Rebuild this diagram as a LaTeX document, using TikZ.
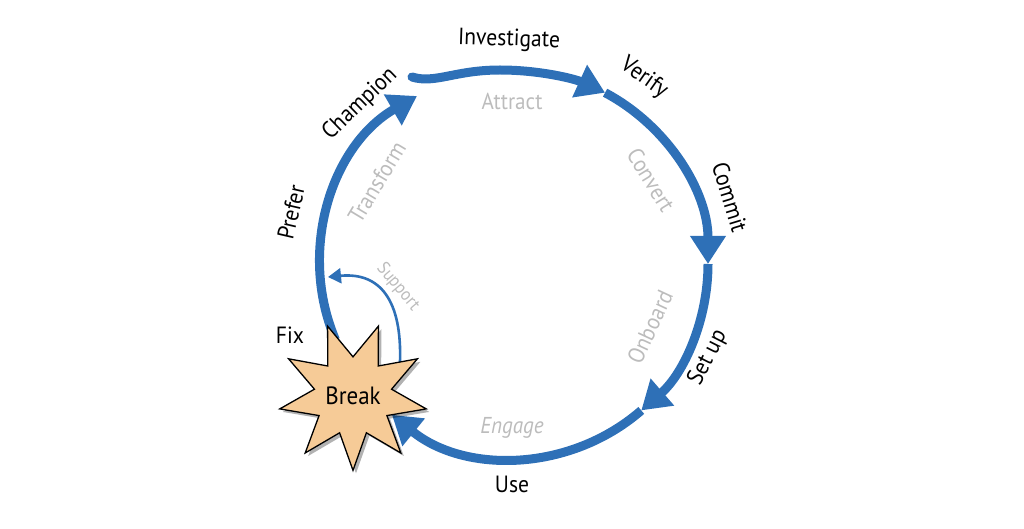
\documentclass[tikz,border=0pt]{standalone}
\usepackage{fontspec}
\setmainfont{PT Sans}[FakeStretch=0.92]
\usetikzlibrary{arrows.meta,shapes.geometric,shadows,calc}
\definecolor{cblue}{RGB}{46,112,183}
\definecolor{cgrey}{RGB}{188,188,188}
\definecolor{cpeach}{RGB}{246,203,151}
\begin{document}
\begin{tikzpicture}[x=1pt,y=1pt,
  flow/.style={draw=cblue, line width=9pt, -{Triangle[length=28pt,width=34pt]}},
  thinflow/.style={draw=cblue, line width=2.6pt, -{Triangle[length=13pt,width=15pt]}},
  lbl/.style={font=\fontsize{23.5}{23.5}\selectfont, text=black, inner sep=0pt},
  glbl/.style={font=\fontsize{23}{23}\selectfont, text=cgrey, inner sep=0pt},
  slbl/.style={font=\fontsize{18}{18}\selectfont, text=cgrey, inner sep=0pt},
  burst/.style={star, star points=9, star point ratio=1.9, minimum size=144pt,
    inner sep=0pt, shape border rotate=180, draw=black, line width=1.3pt,
    fill=cpeach, font=\fontsize{25}{25}\selectfont,
    drop shadow={shadow xshift=3pt, shadow yshift=-3pt, opacity=0.3, fill=black}},
]
\useasboundingbox (0,0) rectangle (1024,528);
\coordinate (c) at (514,264);
\coordinate (a0) at (412,451);
\coordinate (b0) at ($(c)+(62:194)$);
\coordinate (b1) at ($(c)+(0:194)$);
\coordinate (b2) at ($(c)+(-49:194)$);
\coordinate (b3) at ($(c)+(203:194)$);
\coordinate (s0) at (400,166);
\coordinate (s1) at (328,251);

% top wavy segment
\draw[flow, line cap=round] (a0) .. controls (435,444) and (455,458) .. (500,458)
  .. controls (540,458) and (575,449) .. (b0);
% circle segments
\draw[flow] (b0) arc[start angle=62, end angle=0, radius=194];
\draw[flow] (b1) arc[start angle=0, end angle=-49, radius=194];
\draw[flow] (b2) arc[start angle=-49, end angle=-129, radius=194];
\draw[flow] (b3) arc[start angle=203, end angle=120, radius=194];
% support
\draw[thinflow] (s0) .. controls (402,228) and (380,256) .. (s1);

% star
\node[burst] (brk) at (353,132) {Break};

% black labels
\node[lbl, rotate=-2] (investigate) at (509,488) {Investigate};
\node[lbl, rotate=-35] (verify) at (644,450) {Verify};
\node[lbl, rotate=-73] (commit) at (730,331) {Commit};
\node[lbl, rotate=63] (setup) at (708,170) {Set up};
\node[lbl] (use) at (512,44) {Use};
\node[lbl] (fix) at (290,193) {Fix};
\node[lbl, rotate=77] (prefer) at (291,316) {Prefer};
\node[lbl, rotate=44] (champion) at (360,424) {Champion};

% grey labels
\node[glbl] (attract) at (512,427) {Attract};
\node[glbl, rotate=-58.5] (convert) at (651,348) {Convert};
\node[glbl, rotate=65] (onboard) at (650,201) {Onboard};
\node[glbl, font=\fontsize{23}{23}\selectfont\itshape] (engage) at (512,100) {Engage};
\node[glbl, rotate=59] (transform) at (377,346) {Transform};
\node[slbl, rotate=-50] (support) at (398,241) {Support};
\end{tikzpicture}
\end{document}
